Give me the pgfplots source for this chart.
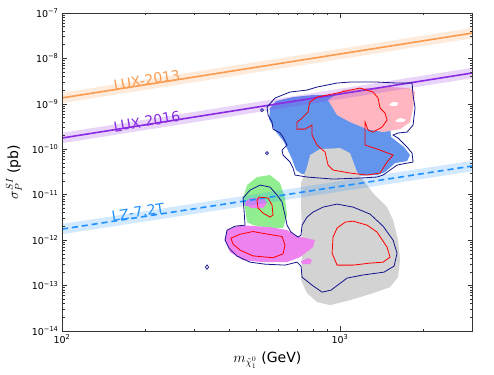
\documentclass[border=0pt]{standalone}
\usepackage{pgfplots}
\pgfplotsset{compat=1.18}
\usepackage{fontspec}
\setmainfont{DejaVu Sans}
\definecolor{luxA}{RGB}{250,155,80}
\definecolor{luxB}{RGB}{138,43,226}
\definecolor{lzc}{RGB}{30,144,255}
\definecolor{fblue}{RGB}{100,149,237}
\definecolor{fpink}{RGB}{255,182,193}
\definecolor{fgray}{RGB}{211,211,211}
\definecolor{fgreen}{RGB}{144,238,144}
\definecolor{fmag}{RGB}{238,130,238}
\definecolor{cnavy}{RGB}{20,20,140}
\begin{document}
\begin{tikzpicture}
\begin{axis}[
  xmode=log, ymode=log,
  scale only axis, width=410.7pt, height=318pt,
  xmin=100, xmax=3000, ymin=1e-14, ymax=1e-7,
  xtick={100,1000}, xticklabels={10\textsuperscript{2},10\textsuperscript{3}},
  minor xtick={200,300,400,500,600,700,800,900,2000,3000},
  ytick={1e-14,1e-13,1e-12,1e-11,1e-10,1e-9,1e-8,1e-7},
  yticklabels={10\textsuperscript{−14},10\textsuperscript{−13},10\textsuperscript{−12},10\textsuperscript{−11},10\textsuperscript{−10},10\textsuperscript{−9},10\textsuperscript{−8},10\textsuperscript{−7}},
  minor ytick={2e-14,3e-14,4e-14,5e-14,6e-14,7e-14,8e-14,9e-14,
               2e-13,3e-13,4e-13,5e-13,6e-13,7e-13,8e-13,9e-13,
               2e-12,3e-12,4e-12,5e-12,6e-12,7e-12,8e-12,9e-12,
               2e-11,3e-11,4e-11,5e-11,6e-11,7e-11,8e-11,9e-11,
               2e-10,3e-10,4e-10,5e-10,6e-10,7e-10,8e-10,9e-10,
               2e-9,3e-9,4e-9,5e-9,6e-9,7e-9,8e-9,9e-9,
               2e-8,3e-8,4e-8,5e-8,6e-8,7e-8,8e-8,9e-8},
  tick align=inside,
  major tick length=5pt, minor tick length=2.5pt,
  axis line style={black!80, line width=0.9pt},
  every tick/.style={black!80, line width=0.6pt},
  ticklabel style={font=\fontsize{9.5}{11}\selectfont},
  xlabel={$m_{\tilde{\chi}^{0}_{1}}$ (GeV)},
  ylabel={$\sigma_P^{SI}$ (pb)},
  label style={font=\fontsize{14}{16}\selectfont},
  xlabel style={at={(axis description cs:0.5,-0.091)},anchor=center},
  ylabel style={at={(axis description cs:-0.117,0.5)},anchor=center},
  axis on top,
]
% blue region
\addplot[fill=fblue, draw=none] coordinates {
(560.0,8.08e-10)(588.6,1.153e-9)(677.6,1.412e-9)(799.7,1.563e-9)(959.4,1.563e-9)
(1180.2,9.41e-10)(1451.7,3.98e-10)(1513.1,3.24e-10)(1525.7,1.861e-10)(1699.1,1.120e-10)
(1785.7,7.46e-11)(1741.8,5.50e-11)(1577.1,4.97e-11)(1451.7,3.15e-11)(1358.6,2.71e-11)
(1086.4,2.58e-11)(847.4,2.58e-11)(730.1,2.85e-11)(694.6,3.49e-11)(672.0,6.09e-11)
(628.9,1.442e-10)(578.9,2.78e-10)(555.5,4.63e-10)} -- cycle;
% pink region
\addplot[fill=fpink, draw=none] coordinates {
(905.5,1.213e-9)(1025.2,2.014e-9)(1250.7,2.229e-9)(1513.1,2.345e-9)(1785.7,2.229e-9)
(1861.2,1.820e-9)(1830.7,8.08e-10)(1785.7,3.98e-10)(1643.7,2.78e-10)(1427.9,2.39e-10)
(1250.7,2.78e-10)(1086.4,3.98e-10)(975.5,5.67e-10)} -- cycle;
% holes
\addplot[fill=white, draw=none] coordinates {
(1500.0,9.6e-10)(1551.2,1.10e-9)(1620.0,1.06e-9)(1600.0,9.1e-10)(1530.0,9.0e-10)} -- cycle;
\addplot[fill=white, draw=none] coordinates {
(1580.0,4.30e-10)(1643.7,4.90e-10)(1720.0,4.55e-10)(1700.0,4.05e-10)(1610.0,3.95e-10)} -- cycle;
% gray region
\addplot[fill=fgray, draw=none] coordinates {
(760.9,4.06e-11)(780.0,7.46e-11)(847.4,1.012e-10)(1000,1.064e-10)(1086.4,8.26e-11)
(1151.3,3.15e-11)(1314.4,1.087e-11)(1476.0,5.34e-12)(1551.2,2.76e-12)(1616.9,1.002e-12)
(1643.7,3.63e-13)(1616.9,1.534e-13)(1513.1,9.24e-14)(1314.4,6.82e-14)(1086.4,4.78e-14)
(920.5,3.71e-14)(826.6,4.32e-14)(760.9,6.82e-14)(724.0,1.318e-13)(730.1,4.23e-13)
(730.1,1.429e-12)(724.0,5.34e-12)(724.0,1.804e-11)} -- cycle;
% green region
\addplot[fill=fgreen, draw=none] coordinates {
(447.8,8.44e-12)(462.9,1.630e-11)(502.8,2.45e-11)(560.0,2.71e-11)(608.4,1.804e-11)
(634.1,8.44e-12)(644.7,3.56e-12)(623.7,1.838e-12)(560.0,1.838e-12)(486.5,2.14e-12)
(462.9,2.49e-12)(455.3,5.08e-12)} -- cycle;
% magenta regions
\addplot[fill=fmag, draw=none] coordinates {
(385.8,1.002e-12)(392.2,1.663e-12)(436.8,2.14e-12)(560.0,1.934e-12)(644.7,1.663e-12)
(700.4,1.227e-12)(813.0,1.002e-12)(799.7,7.02e-13)(718.0,4.23e-13)(644.7,3.28e-13)
(528.5,3.28e-13)(447.8,3.63e-13)(402.1,5.45e-13)} -- cycle;
\addplot[fill=fmag, draw=none] coordinates {
(724.0,3.45e-13)(767.3,4.02e-13)(793.1,3.63e-13)(780.0,2.96e-13)(730.1,2.96e-13)} -- cycle;
\addplot[fill=fmag, draw=none] coordinates {
(455.3,6.89e-12)(474.5,8.44e-12)(528.5,8.44e-12)(546.2,6.55e-12)(528.5,5.08e-12)
(482.5,5.08e-12)(455.3,5.91e-12)} -- cycle;
% bands
\addplot[fill=luxA, fill opacity=0.2, draw=none] coordinates {
(100,1.755e-9)(3000,4.72e-8)(3000,2.79e-8)(100,1.04e-9)} -- cycle;
\addplot[fill=luxB, fill opacity=0.2, draw=none] coordinates {
(100,2.30e-10)(3000,6.24e-9)(3000,3.69e-9)(100,1.36e-10)} -- cycle;
\addplot[fill=lzc, fill opacity=0.2, draw=none] coordinates {
(100,2.27e-12)(3000,5.6e-11)(3000,3.3e-11)(100,1.35e-12)} -- cycle;
% limit lines
\addplot[luxA, line width=1.6pt] coordinates {(100,1.35e-9)(3000,3.63e-8)};
\addplot[luxB, line width=1.6pt] coordinates {(100,1.77e-10)(3000,4.8e-9)};
\addplot[lzc, line width=1.6pt, dash pattern=on 6pt off 4pt] coordinates {(100,1.75e-12)(3000,4.3e-11)};
% navy contours
\addplot[cnavy, line width=0.8pt] coordinates {
(546.3,8.50e-10)(583.7,1.343e-9)(660.9,1.820e-9)(760.9,2.014e-9)(826.6,2.345e-9)
(975.5,2.872e-9)(1086.4,3.022e-9)(1358.6,3.022e-9)(1603.4,2.872e-9)(1815.7,2.872e-9)
(1830.7,1.563e-9)(1861.2,8.08e-10)(1830.7,3.41e-10)(1741.8,2.39e-10)(1616.9,2.28e-10)
(1551.2,2.06e-10)(1616.9,1.770e-10)(1741.8,1.120e-10)(1815.7,8.26e-11)(1830.7,5.23e-11)
(1741.8,4.97e-11)(1603.4,4.49e-11)(1513.1,3.49e-11)(1427.9,2.71e-11)(1358.6,2.45e-11)
(1180.2,2.33e-11)(943.7,2.21e-11)(760.9,2.45e-11)(688.9,2.71e-11)(677.6,3.86e-11)
(660.9,5.23e-11)(623.7,7.46e-11)(618.6,9.61e-11)(644.7,1.239e-10)(623.7,1.861e-10)
(608.4,2.28e-10)(574.1,2.78e-10)(569.4,3.98e-10)(550.9,5.67e-10)} -- cycle;
\addplot[cnavy, line width=0.8pt] coordinates {
(455.3,2.14e-12)(451.5,4.59e-12)(447.8,8.44e-12)(474.5,1.265e-11)(515.5,1.630e-11)
(560.0,1.473e-11)(593.4,9.82e-12)(618.6,6.89e-12)(634.1,3.56e-12)(644.7,2.14e-12)
(666.4,1.503e-12)(706.2,1.167e-12)(724.0,1.291e-12)(730.1,2.14e-12)(760.9,3.22e-12)
(799.7,4.15e-12)(868.8,5.34e-12)(975.5,6.22e-12)(1113.8,5.34e-12)(1282.1,3.75e-12)
(1427.9,2.03e-12)(1551.2,1.002e-12)(1603.4,5.18e-13)(1564.1,2.68e-13)(1439.7,1.979e-13)
(1200.0,1.698e-13)(1059.7,1.459e-13)(928.1,7.94e-14)(861.6,7.17e-14)(793.1,1.023e-13)
(730.1,1.534e-13)(724.0,2.68e-13)(700.4,3.28e-13)(634.1,2.82e-13)(537.3,2.96e-13)
(474.5,3.28e-13)(426.1,4.45e-13)(398.8,6.67e-13)(385.8,1.002e-12)(392.2,1.663e-12)
(419.1,2.03e-12)} -- cycle;
% red contours
\addplot[red, line width=0.8pt] coordinates {
(780.0,1.096e-9)(826.6,1.412e-9)(975.5,1.730e-9)(1086.4,2.014e-9)(1180.2,2.229e-9)
(1314.4,1.820e-9)(1370.1,1.343e-9)(1392.8,8.08e-10)(1451.7,6.27e-10)(1476.0,4.40e-10)
(1416.2,3.08e-10)(1314.4,2.39e-10)(1261.2,2.65e-10)(1230.1,3.98e-10)(1230.1,2.28e-10)
(1230.1,1.239e-10)(1392.8,9.61e-11)(1551.2,7.46e-11)(1476.0,5.23e-11)(1392.8,3.00e-11)
(1250.7,2.71e-11)(1086.4,3.00e-11)(943.7,3.49e-11)(905.5,4.49e-11)(883.3,8.68e-11)
(826.6,1.239e-10)(793.1,2.06e-10)(793.1,3.41e-10)(748.4,2.78e-10)(700.4,2.78e-10)
(700.4,3.98e-10)(724.0,4.63e-10)(767.3,6.60e-10)(773.6,9.41e-10)} -- cycle;
\addplot[red, line width=0.8pt] coordinates {
(502.8,7.62e-12)(511.3,8.87e-12)(550.9,8.44e-12)(569.4,5.91e-12)(574.1,3.56e-12)
(560.0,3.22e-12)(528.5,3.94e-12)(507.1,5.08e-12)} -- cycle;
\addplot[red, line width=0.8pt] coordinates {
(405.0,1.109e-12)(436.8,1.35e-12)(486.5,1.55e-12)(515.5,1.45e-12)(560.0,1.33e-12)
(618.6,1.20e-12)(634.1,7.77e-13)(623.7,5.00e-13)(574.1,4.10e-13)(486.5,4.50e-13)
(436.8,6.03e-13)(412.0,8.20e-13)} -- cycle;
\addplot[red, line width=0.8pt] coordinates {
(943.7,1.167e-12)(975.5,1.838e-12)(1042.3,2.49e-12)(1113.8,2.62e-12)(1250.7,2.14e-12)
(1358.6,1.503e-12)(1476.0,7.02e-13)(1513.1,4.23e-13)(1427.9,3.28e-13)(1282.1,3.12e-13)
(1113.8,2.82e-13)(975.5,2.82e-13)(936.0,5.18e-13)} -- cycle;
% small isolated contours
\addplot[only marks, mark=diamond, mark size=2.2pt, cnavy, mark options={line width=0.7pt}] coordinates {(332.3,2.55e-13)};
\addplot[only marks, mark=o, mark size=1.5pt, cnavy, mark options={line width=0.7pt}] coordinates {(524.2,7.30e-10)(546.2,8.26e-11)};
% labels
\node[rotate=9.5, text=luxA, font=\fontsize{14}{16}\selectfont] at (axis cs:202,3.34e-9) {LUX-2013};
\node[rotate=9.5, text=luxB, font=\fontsize{14}{16}\selectfont] at (axis cs:202,4.08e-10) {LUX 2016};
\node[rotate=9, text=lzc, font=\fontsize{14}{16}\selectfont] at (axis cs:187.7,4.15e-12) {LZ-7.2T};
\end{axis}
\pgfresetboundingbox
\path ([xshift=-62pt,yshift=-43pt]current axis.south west) rectangle ([xshift=21.3pt,yshift=13pt]current axis.north east);
\end{tikzpicture}
\end{document}
